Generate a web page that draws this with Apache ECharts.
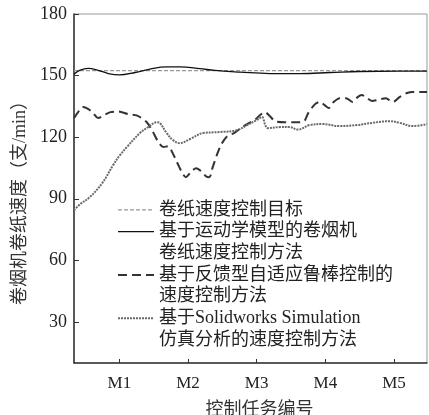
<!DOCTYPE html>
<html>
<head>
<meta charset="utf-8">
<script src="https://cdn.jsdelivr.net/npm/echarts@6/dist/echarts.min.js"></script>
<style>html,body{margin:0;padding:0;background:#fff}#c{width:429px;height:415px}</style>
</head>
<body>
<div id="c"></div>
<script>
// Category tick labels
var xTicks = [1, 2, 3, 4, 5];
var xTickLabels = ['M1', 'M2', 'M3', 'M4', 'M5'];
var yTicks = [30, 60, 90, 120, 150, 180];

var seriesNames = [
  '卷纸速度控制目标',
  '基于运动学模型的卷烟机卷纸速度控制方法',
  '基于反馈型自适应鲁棒控制的速度控制方法',
  '基于Solidworks Simulation仿真分析的速度控制方法'
];

// Target
var targetX = [0.34, 5.48];
var targetY = [152.4, 152.4];

// Kinematic model method
var kinX = [0.34,0.43,0.55,0.68,0.84,1.0,1.23,1.45,1.69,1.88,2.17,2.39,2.76,3.19,3.63,4.07,4.50,5.08,5.48];
var kinY = [150.7,152.7,153.5,152.7,151.0,150.3,151.5,153.2,154.2,154.2,153.4,152.5,151.7,151.0,151.0,151.5,152.0,152.2,152.2];

// Adaptive robust control method
var robX = [0.34,0.40,0.47,0.55,0.62,0.69,0.78,0.87,0.98,1.13,1.26,1.40,1.49,1.56,1.64,1.71,1.77,1.84,1.91,1.97,2.04,2.12,2.19,2.26,2.31,2.36,2.42,2.48,2.57,2.67,2.77,2.86,2.97,3.05,3.12,3.19,3.27,3.41,3.60,3.69,3.75,3.85,3.92,3.99,4.05,4.12,4.21,4.30,4.40,4.47,4.53,4.59,4.68,4.76,4.88,4.98,5.08,5.19,5.27,5.37,5.48];
var robY = [129.3,132.2,134.7,133.7,131.7,129.3,130.8,132.2,132.5,131.2,130.5,127.3,122.5,118.1,115.2,115.6,112.7,107.8,103.0,100.5,103.0,104.9,103.5,101.0,100.5,105.4,111.3,116.1,120.5,122.0,124.4,126.4,128.3,130.8,132.2,130.3,127.8,127.3,127.3,127.8,131.7,136.1,137.2,135.6,134.2,137.1,139.0,139.0,137.1,139.5,140.5,139.5,137.6,138.1,139.0,137.1,139.5,141.5,142.0,142.0,142.0];

// Solidworks simulation method
var simX = [0.34,0.43,0.57,0.75,0.91,1.01,1.11,1.30,1.42,1.55,1.59,1.69,1.78,1.88,2.03,2.22,2.46,2.71,2.86,3.00,3.08,3.12,3.16,3.34,3.48,3.60,3.77,3.96,4.21,4.46,4.69,4.94,5.08,5.27,5.48];
var simY = [84.4,87.4,90.8,97.6,106.4,111.3,115.2,122.0,124.9,127.3,126.9,122.0,118.6,117.1,119.1,122.0,122.5,123.4,125.9,128.3,129.8,126.4,124.4,124.9,124.9,123.7,125.9,126.4,125.4,125.9,127.0,127.8,127.0,125.4,126.4];

function zip(xs, ys) { return xs.map(function (x, i) { return [x, ys[i]]; }); }

var serif = "'Liberation Serif', 'Noto Sans CJK SC', serif";
var legendNames = [
  '卷纸速度控制目标',
  '\n基于运动学模型的卷烟机\n卷纸速度控制方法',
  '\n基于反馈型自适应鲁棒控制的\n速度控制方法',
  '\n基于Solidworks Simulation\n仿真分析的速度控制方法'
];
var legendWidths = [1.2, 1.3, 2, 2];

var chart = echarts.init(document.getElementById('c'), null, {renderer: 'canvas'});
chart.setOption({
  animation: false,
  backgroundColor: '#fff',
  grid: {left: 74, right: 2, top: 14, bottom: 52, show: true, borderColor: '#999', borderWidth: 1, containLabel: false, outerBoundsMode: 'none'},
  xAxis: {
    type: 'value', min: 0.34, max: 5.48,
    name: '控制任务编号', nameLocation: 'middle', nameGap: 38,
    nameTextStyle: {fontFamily: serif, fontSize: 18, color: '#333', padding: [0, 0, 0, 18]},
    axisLine: {show: true, lineStyle: {color: '#333', width: 1.5}},
    axisTick: {show: true, inside: true, length: 4, customValues: xTicks, lineStyle: {color: '#333'}},
    axisLabel: {customValues: xTicks, fontFamily: serif, fontSize: 17, color: '#222', margin: 12,
      formatter: function (v) { return xTickLabels[xTicks.indexOf(Math.round(v))]; }},
    splitLine: {show: false}
  },
  yAxis: {
    type: 'value', min: 10, max: 180,
    name: '卷烟机卷纸速度（支/min）', nameLocation: 'middle', nameGap: 42,
    nameTextStyle: {fontFamily: serif, fontSize: 18, color: '#333', padding: [0, 20, 0, 0]},
    axisLine: {show: true, lineStyle: {color: '#333', width: 1.5}},
    axisTick: {show: true, inside: true, length: 5, customValues: yTicks, lineStyle: {color: '#333'}},
    axisLabel: {customValues: yTicks, fontFamily: serif, fontSize: 18, color: '#222', margin: 7},
    splitLine: {show: false}
  },
  legend: {
    orient: 'vertical', left: 117, top: 199, padding: 0,
    itemWidth: 36, itemHeight: 14, itemGap: -21.7,
    itemStyle: {opacity: 0},
    textStyle: {fontFamily: serif, fontSize: 18, color: '#222', lineHeight: 21.7},
    formatter: function (name) { return legendNames[seriesNames.indexOf(name)]; },
    data: seriesNames.map(function (n, i) { return {name: n, lineStyle: {width: legendWidths[i]}}; })
  },
  series: [
    {name: seriesNames[0], type: 'line', symbol: 'none', data: zip(targetX, targetY),
      lineStyle: {color: '#999', width: 1.2, type: [4, 2]}, z: 2},
    {name: seriesNames[1], type: 'line', symbol: 'none', smooth: 0.4, data: zip(kinX, kinY),
      lineStyle: {color: '#111', width: 1.3, type: 'solid'}, z: 3},
    {name: seriesNames[2], type: 'line', symbol: 'none', smooth: 0.3, data: zip(robX, robY),
      lineStyle: {color: '#333', width: 2, type: [9, 5]}, z: 3},
    {name: seriesNames[3], type: 'line', symbol: 'none', smooth: 0.4, data: zip(simX, simY),
      lineStyle: {color: '#6a6a6a', width: 2, type: [2, 1]}, z: 3}
  ]
});
</script>
</body>
</html>
